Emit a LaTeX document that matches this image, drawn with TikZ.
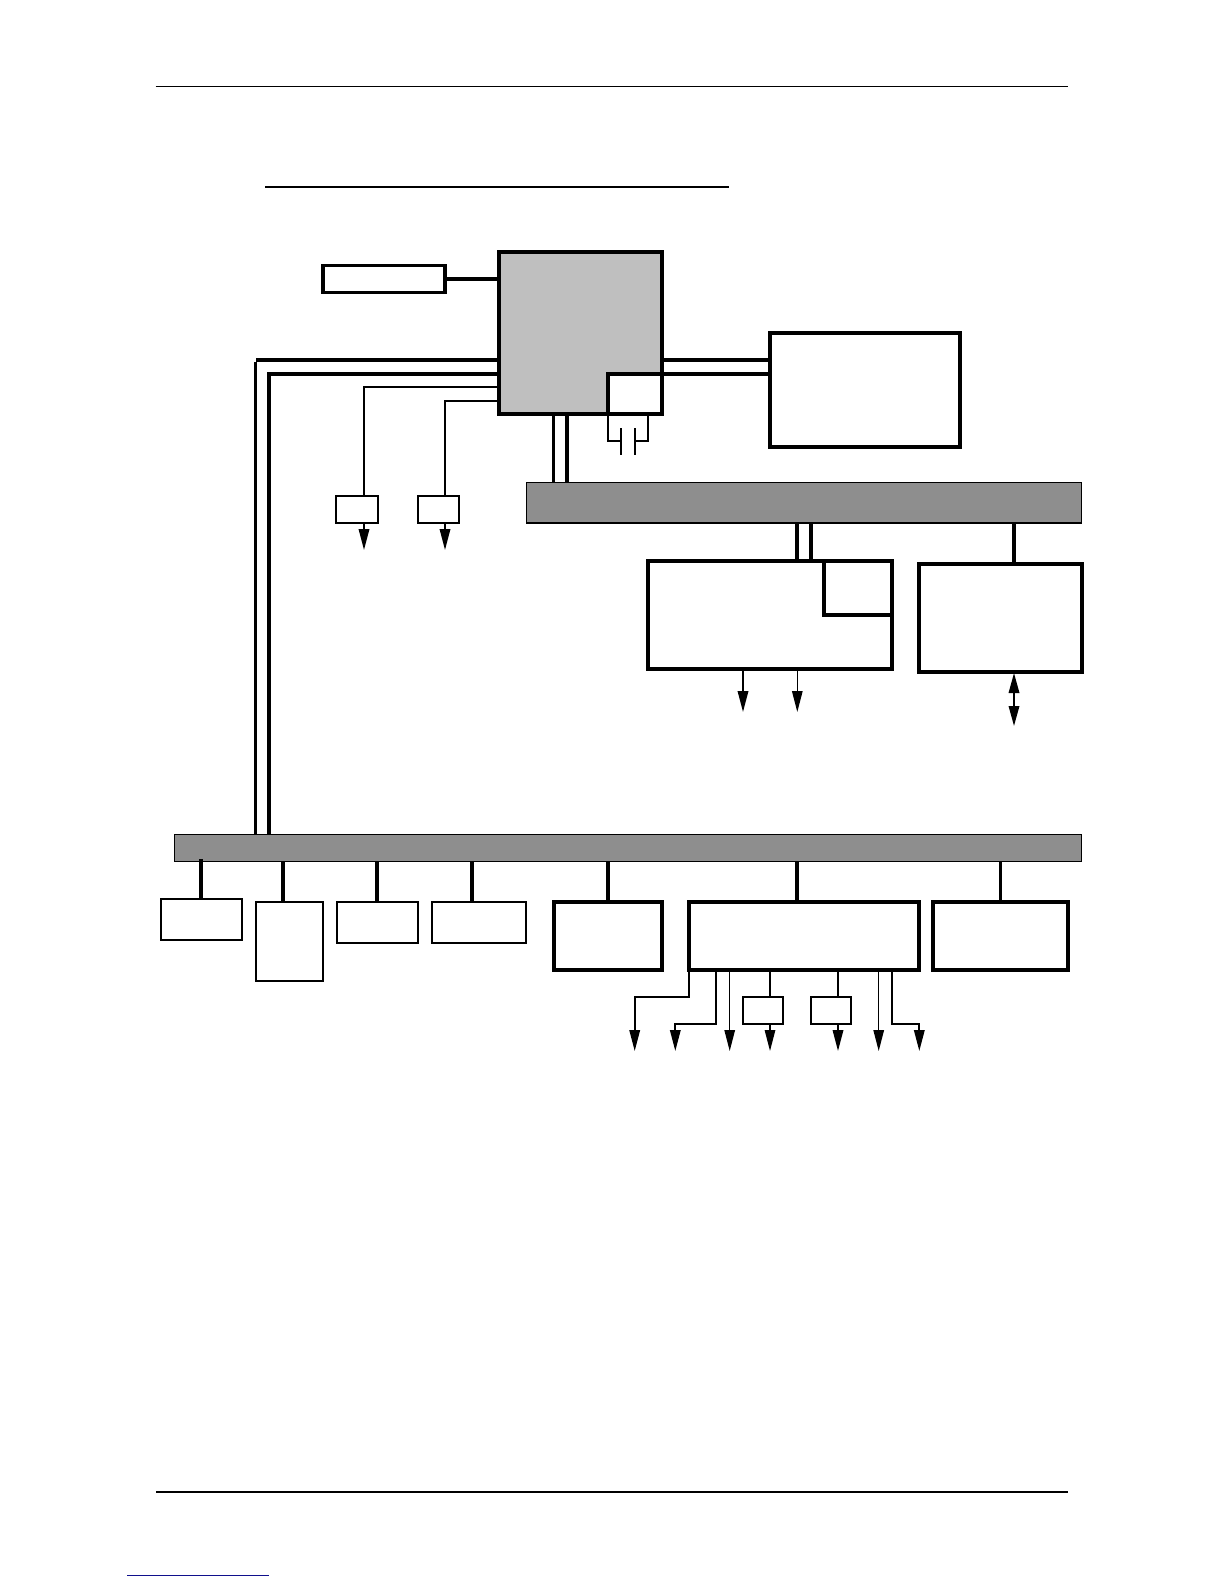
\documentclass[tikz,border=0pt]{standalone}
\usetikzlibrary{arrows.meta}
\definecolor{cpugray}{HTML}{BFBFBF}
\definecolor{busgray}{HTML}{8E8E8E}
\definecolor{linkblue}{HTML}{10108C}
\tikzset{
  blockbase/.style={draw=black,fill=white,inner sep=0pt,outer sep=0pt,rectangle},
  boxheavy/.style={blockbase,line width=4pt},
  boxmid/.style={blockbase,line width=3.2pt},
  boxthin/.style={blockbase,line width=2pt},
  boxcpu/.style={boxheavy,fill=cpugray},
  busbar/.style={blockbase,fill=busgray,line width=1.2pt},
  wirebig/.style={line width=3.6pt},
  wiremid/.style={line width=2.7pt},
  wirethin/.style={line width=1.8pt},
  wirefine/.style={line width=1.3pt},
  rulefine/.style={line width=1pt},
  rulebold/.style={line width=2.2pt},
  tipdown/.style={-{Triangle[length=21pt,width=10.5pt]}},
  tipboth/.style={{Triangle[length=20pt,width=10.5pt]}-{Triangle[length=20pt,width=10.5pt]}},
}
\newcommand{\blk}[6]{\node[#1,minimum width={#4-#2},minimum height={#5-#3}] (#6) at ({(#2+#4)/2},{(#3+#5)/2}) {};}
\begin{document}
\begin{tikzpicture}[x=1pt,y=-1pt]
\useasboundingbox (0,0) rectangle (1224,1584);
% page rules
\coordinate (htl) at (155.5,86.3); \coordinate (htr) at (1067.5,86.3);
\coordinate (hbl) at (156,1492); \coordinate (hbr) at (1067.5,1492);
\coordinate (ttl) at (265,187); \coordinate (ttr) at (729,187);
\coordinate (lnl) at (127,1575.3); \coordinate (lnr) at (269,1575.3);
\draw[rulefine] (htl) -- (htr);
\draw[rulebold] (hbl) -- (hbr);
\draw[rulebold] (ttl) -- (ttr);
\draw[rulefine,linkblue] (lnl) -- (lnr);
% blocks
\blk{boxcpu}{499}{252}{662}{413.7}{cpu}
\blk{boxheavy}{608.3}{374}{662}{413.7}{cpuin}
\blk{boxmid}{323}{265.7}{445}{292.3}{clk}
\blk{boxheavy}{770}{333}{960}{446.7}{mem}
\blk{busbar}{526.3}{482.5}{1081.7}{523}{busa}
\blk{busbar}{174.7}{834.3}{1081.7}{861.3}{busb}
\blk{boxthin}{336.3}{495.7}{377.7}{523.3}{buf1}
\blk{boxthin}{417.7}{495.7}{458.7}{523.3}{buf2}
\blk{boxheavy}{648.3}{560.7}{891.7}{668.7}{vid}
\blk{boxheavy}{824}{560.7}{891.7}{614.7}{vidin}
\blk{boxheavy}{919}{563.7}{1082}{671.7}{net}
\blk{boxthin}{161}{899}{242}{940}{p1}
\blk{boxthin}{255.7}{902}{323}{981.3}{p2}
\blk{boxthin}{337}{902}{418}{943}{p3}
\blk{boxthin}{432}{902}{526.3}{943}{p4}
\blk{boxheavy}{554}{902}{662}{969.7}{p5}
\blk{boxheavy}{689.3}{902}{919}{969.7}{p6}
\blk{boxheavy}{933}{902}{1068}{969.7}{p7}
\blk{boxthin}{743}{996.7}{783.3}{1023.7}{s1}
\blk{boxthin}{811}{996.7}{851.3}{1023.7}{s2}
% named x positions and free ends
\coordinate (xa) at (255.7,360); \coordinate (xb) at (269,374);
\coordinate (xc) at (364,386.7); \coordinate (xd) at (445,401);
\coordinate (t1) at (364,550); \coordinate (t2) at (445,550);
\coordinate (t3) at (743,712); \coordinate (t4) at (797.3,712);
\coordinate (dt) at (1014,673); \coordinate (db) at (1014,726);
\coordinate (b1) at (634.7,1051); \coordinate (b2) at (675.3,1051);
\coordinate (b3) at (729.7,1051); \coordinate (b4) at (770,1051);
\coordinate (b5) at (838,1051); \coordinate (b6) at (878.7,1051);
\coordinate (b7) at (919.3,1051);
\coordinate (j1) at (689,996.7); \coordinate (j2) at (716,1023.7); \coordinate (j7) at (892,1023.7);
\coordinate (x1) at (553.3,0); \coordinate (x2) at (567,0);
\coordinate (x3) at (797,0); \coordinate (x4) at (811,0); \coordinate (x5) at (1014,0);
\coordinate (q1) at (201,859.3);
\coordinate (x6) at (283,0); \coordinate (x7) at (377,0); \coordinate (x8) at (472,0);
\coordinate (x9) at (608,0); \coordinate (x10) at (797,0); \coordinate (x11) at (1000.3,0);
\coordinate (x12) at (743,0); \coordinate (x13) at (797.3,0);
% CPU connectors
\draw[wirebig] (clk.east) -- (clk.east -| cpu.west);
\draw[wirebig] (cpu.west |- xa) -- (xa);
\draw[wiremid,line cap=butt] ([yshift=-1.8pt]xa) -- (xa |- busb.north);
\draw[wirebig] (cpu.west |- xb) -- (xb) -- (xb |- busb.north);
\draw[wirethin] (cpu.west |- xc) -- (xc) -- (xc |- buf1.north);
\draw[wirethin] (cpu.west |- xd) -- (xd) -- (xd |- buf2.north);
\draw[wirethin,tipdown] (t1 |- buf1.south) -- (t1);
\draw[wirethin,tipdown] (t2 |- buf2.south) -- (t2);
\draw[wirebig] (cpu.east |- xa) -- (mem.west |- xa);
\draw[wirebig] (cpu.east |- xb) -- (mem.west |- xb);
\draw[wiremid] (x1 |- cpu.south) -- (x1 |- busa.north);
\draw[wirebig] (x2 |- cpu.south) -- (x2 |- busa.north);
% capacitor
\coordinate (capl) at (621,441.3); \coordinate (capr) at (635,441.3);
\coordinate (cl1) at (621,428); \coordinate (cl2) at (621,455);
\coordinate (cr1) at (635,428); \coordinate (cr2) at (635,455);
\coordinate (ca) at (608.3,0); \coordinate (cb) at (648,0);
\draw[wirethin] (ca |- cpuin.south) |- (capl);
\draw[wirethin] (cb |- cpuin.south) |- (capr);
\draw[wirethin] (cl1) -- (cl2);
\draw[wirethin] (cr1) -- (cr2);
% bus A
\draw[wirebig] (x3 |- busa.south) -- (x3 |- vid.north);
\draw[wirebig] (x4 |- busa.south) -- (x4 |- vid.north);
\draw[wirebig] (x5 |- busa.south) -- (x5 |- net.north);
\draw[wirethin,tipdown] (x12 |- vid.south) -- (t3);
\draw[wirefine,tipdown] (x13 |- vid.south) -- (t4);
\draw[wirethin,tipboth] (dt) -- (db);
% bus B
\draw[wirebig] (q1) -- (q1 |- p1.north);
\draw[wirebig] (x6 |- busb.south) -- (x6 |- p2.north);
\draw[wirebig] (x7 |- busb.south) -- (x7 |- p3.north);
\draw[wirebig] (x8 |- busb.south) -- (x8 |- p4.north);
\draw[wirebig] (x9 |- busb.south) -- (x9 |- p5.north);
\draw[wirebig] (x10 |- busb.south) -- (x10 |- p6.north);
\draw[wiremid] (x11 |- busb.south) -- (x11 |- p7.north);
% below p6
\draw[wirethin,tipdown] (j1 |- p6.south) -- (j1) -| (b1);
\draw[wirethin,tipdown] (j2 |- p6.south) -- (j2) -| (b2);
\draw[wirefine,tipdown] (b3 |- p6.south) -- (b3);
\draw[wirethin] (b4 |- p6.south) -- (b4 |- s1.north);
\draw[wirefine,tipdown] (b4 |- s1.south) -- (b4);
\draw[wirethin] (b5 |- p6.south) -- (b5 |- s2.north);
\draw[wirethin,tipdown] (b5 |- s2.south) -- (b5);
\draw[wirefine,tipdown] (b6 |- p6.south) -- (b6);
\draw[wirethin,tipdown] (j7 |- p6.south) -- (j7) -| (b7);
\end{tikzpicture}
\end{document}
